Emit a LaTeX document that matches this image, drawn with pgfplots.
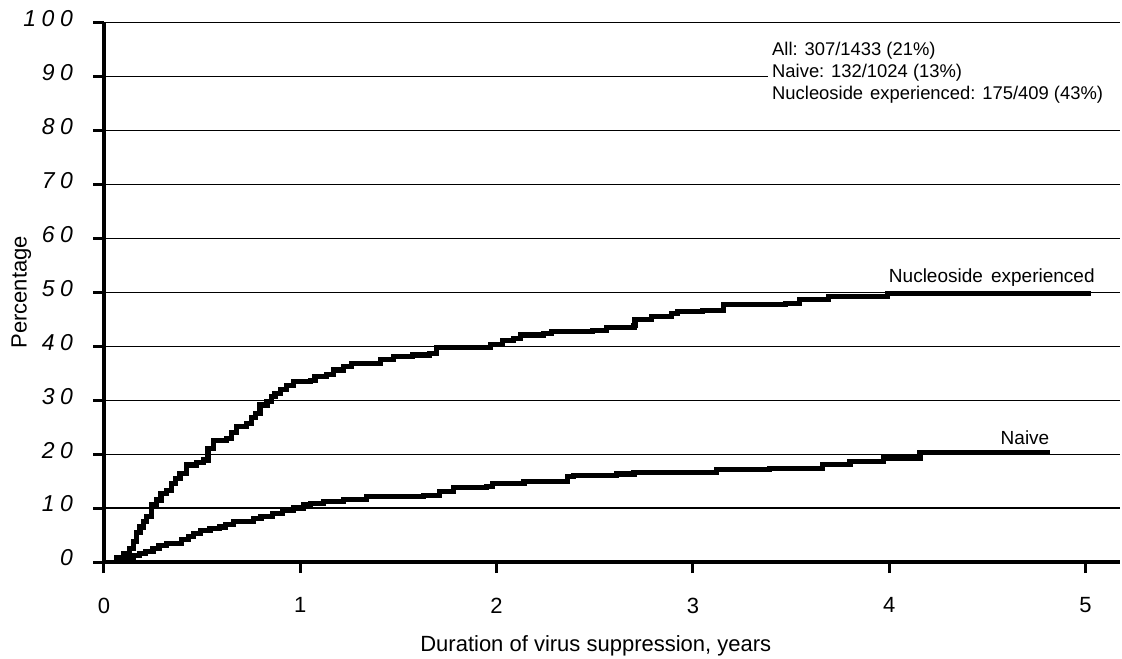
\documentclass[border=0pt]{standalone}
\usepackage{fontspec}
\setmainfont{Liberation Sans}
\usepackage{pgfplots}
\pgfplotsset{compat=1.18}

% cumulative percentage, step curves (x = years, y = %)
\pgfplotstableread{
x      y
0.05   0
0.065  0.8
0.10   1.5
0.13   2.5
0.15   3.8
0.167  5.4
0.183  6.5
0.20   7.5
0.217  8.4
0.243  10.6
0.268  11.5
0.29   12.7
0.32   13.3
0.345  14.6
0.365  15.5
0.387  16.4
0.42   18.0
0.47   18.5
0.506  18.9
0.53   21.1
0.557  22.5
0.625  22.9
0.65   24.0
0.676  25.1
0.727  25.7
0.75   26.8
0.77   27.6
0.795  29.1
0.83   29.8
0.854  30.7
0.871  31.3
0.90   32.0
0.93   32.8
0.964  33.4
1.05   33.7
1.075  34.4
1.134  34.7
1.168  35.6
1.219  36.2
1.262  36.8
1.41   37.5
1.474  38.1
1.57   38.4
1.66   38.6
1.695  39.8
1.97   40.4
2.03   41.0
2.085  41.5
2.12   42.1
2.24   42.4
2.28   42.7
2.49   43.0
2.56   43.5
2.70   43.9
2.705  44.9
2.79   45.5
2.89   46.1
2.92   46.4
3.05   46.7
3.155  47.7
3.47   48.0
3.545  48.6
3.69   49.2
3.99   49.8
5.03   49.8
}\nucexp

\pgfplotstableread{
x      y
0.06   0
0.09   0.3
0.115  0.7
0.15   1.2
0.18   1.6
0.21   2.0
0.25   2.5
0.28   3.0
0.32   3.5
0.396  4.1
0.43   4.7
0.455  5.3
0.49   5.9
0.54   6.2
0.59   6.5
0.62   7.0
0.66   7.5
0.76   8.1
0.80   8.5
0.86   9.0
0.91   9.5
0.964  10.0
1.015  10.6
1.05   10.9
1.12   11.2
1.22   11.6
1.338  12.1
1.627  12.4
1.71   13.0
1.78   13.8
1.95   14.0
1.98   14.6
2.14   14.9
2.36   15.8
2.39   16.1
2.61   16.3
2.70   16.6
3.12   17.2
3.39   17.4
3.66   18.1
3.80   18.6
3.97   19.3
4.157  20.3
4.82   20.3
}\naive

\newcommand{\dsp}{\hspace{2.8pt}}
\newcommand{\yfont}{\fontsize{11.5}{13}\selectfont\itshape}

\begin{document}
\begin{tikzpicture}
\begin{axis}[
  at={(0pt,0pt)}, anchor=south west,
  scale only axis, width=508pt, height=269.65pt,
  xmin=0, xmax=5.176, ymin=0, ymax=100,
  axis x line*=bottom, axis y line*=left,
  x axis line style={line width=1.6pt},
  y axis line style={line width=2pt},
  xtick={0,1,2,3,4,5},
  ytick={0,10,20,30,40,50,60,70,80,90,100},
  yticklabels={{\yfont 0},{\yfont 1\dsp0},{\yfont 2\dsp0},{\yfont 3\dsp0},{\yfont 4\dsp0},{\yfont 5\dsp0},{\yfont 6\dsp0},{\yfont 7\dsp0},{\yfont 8\dsp0},{\yfont 9\dsp0},{\yfont 1\dsp0\dsp0}},
  tick align=outside,
  major tick length=5.5pt,
  major tick style={line width=1.5pt, black},
  ymajorgrids, grid style={line width=0.6pt, black},
  /pgf/number format/assume math mode=true,
  xticklabel style={font=\fontsize{11}{12}\selectfont, yshift=-8.8pt},
  yticklabel style={xshift=-6.5pt, yshift=2pt},
]
\addplot[const plot, black, line width=2.6pt] table[x=x, y=y] {\nucexp};
\addplot[const plot, black, line width=2.6pt] table[x=x, y=y] {\naive};
\end{axis}

% annotation box
\fill[white] (332pt,227pt) rectangle (509pt,263.5pt);
\begin{scope}[every node/.style={anchor=base west, inner sep=0pt, font=\fontsize{9.2}{10}\selectfont}]
\node at (333.9pt,253.1pt) {All: 307/1433 (21\%)};
\node at (333.9pt,242.25pt) {Naive: 132/1024 (13\%)};
\node at (333.9pt,231.4pt) {Nucleoside\hspace{0.1em} experienced: 175/409 (43\%)};
\end{scope}

% curve labels
\node[anchor=base, inner sep=0pt, font=\fontsize{9.5}{11}\selectfont] at (443.9pt,139.5pt) {Nucleoside\hspace{0.15em} experienced};
\node[anchor=base, inner sep=0pt, font=\fontsize{9.5}{11}\selectfont] at (460.5pt,59pt) {Naive};

% axis titles
\node[anchor=base, inner sep=0pt, font=\fontsize{11}{12}\selectfont] at (245.9pt,-44.5pt) {Duration of virus suppression, years};
\node[rotate=90, anchor=base, inner sep=0pt, font=\fontsize{11}{12}\selectfont] at (-38.7pt,134.8pt) {Percentage};

\pgfresetboundingbox
\path (-52pt,-48pt) rectangle (509pt,281pt);
\end{tikzpicture}
\end{document}
